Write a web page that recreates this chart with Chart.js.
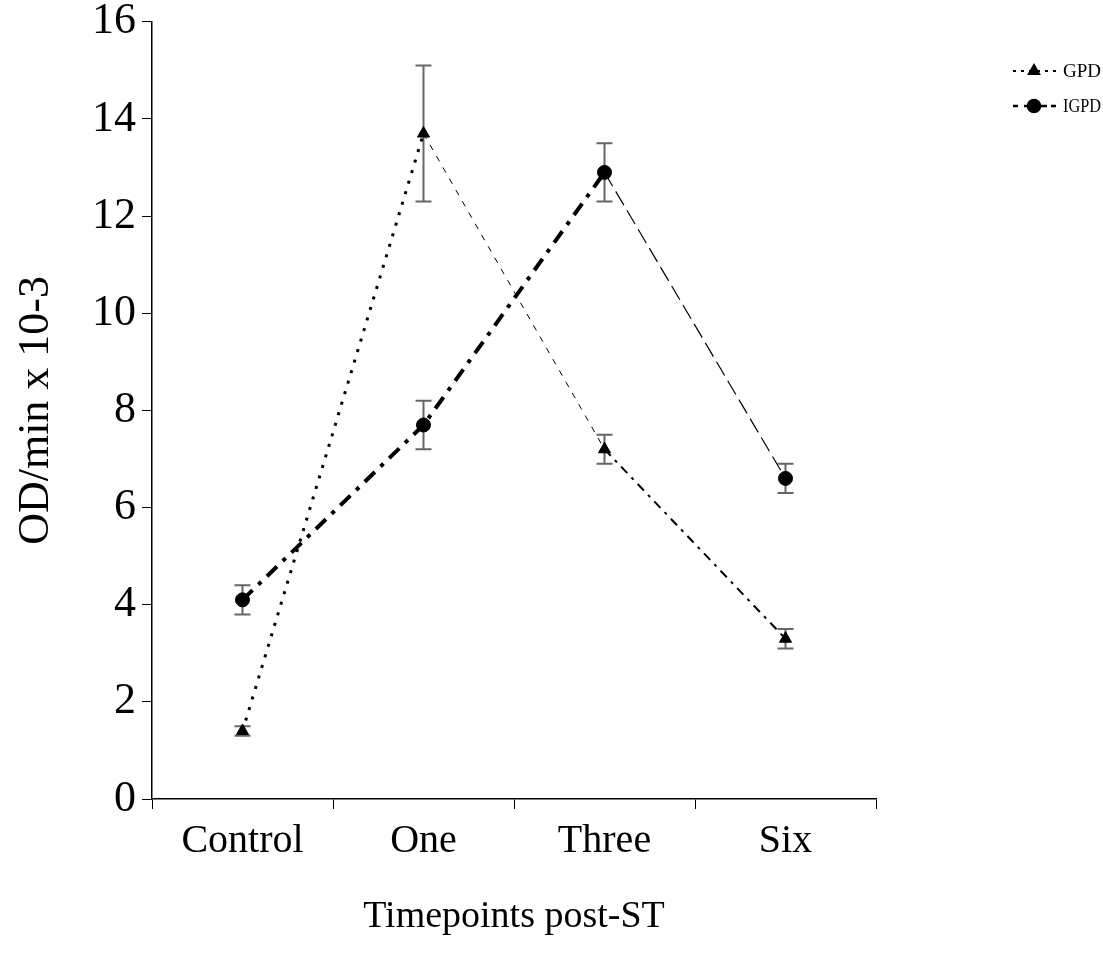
<!DOCTYPE html>
<html>
<head>
<meta charset="utf-8">
<script src="https://cdn.jsdelivr.net/npm/chart.js@4.4.1/dist/chart.umd.min.js"></script>
<style>
  html, body { margin: 0; padding: 0; background: #fff; }
  #wrap { width: 1103px; height: 965px; }
</style>
</head>
<body>
<div id="wrap"><canvas id="chart" width="1103" height="965"></canvas></div>
<script>
const categories = ["Control", "One", "Three", "Six"];
const gpdMeans = [1.4, 13.7, 7.2, 3.3];
const gpdErrors = [0.1, 1.4, 0.3, 0.2];
const igpdMeans = [4.1, 7.7, 12.9, 6.6];
const igpdErrors = [0.3, 0.5, 0.6, 0.3];
const yTickValues = [0, 2, 4, 6, 8, 10, 12, 14, 16];

const serif = "'Liberation Serif', 'Times New Roman', serif";

// line style per segment (Excel export looks different on each stretch)
const gpdDash = [[3, 8], [6, 7], [9, 6, 3, 6]];
const gpdWidth = [3, 1, 2];
const igpdDash = [[14, 8, 4, 8], [14, 8, 4, 8], [16, 6]];
const igpdWidth = [4, 4, 1.2];

// error bars drawn through the y scale
const errorBars = {
    id: "errorBars",
    beforeDatasetsDraw(chart) {
        const ctx = chart.ctx;
        const yScale = chart.scales.y;
        ctx.save();
        ctx.strokeStyle = "#666";
        ctx.lineWidth = 2;
        chart.data.datasets.forEach((ds, i) => {
            const meta = chart.getDatasetMeta(i);
            meta.data.forEach((pt, j) => {
                const top = yScale.getPixelForValue(ds.data[j] + ds.errors[j]);
                const bot = yScale.getPixelForValue(ds.data[j] - ds.errors[j]);
                ctx.beginPath();
                ctx.moveTo(pt.x, top);
                ctx.lineTo(pt.x, bot);
                ctx.moveTo(pt.x - 8, top);
                ctx.lineTo(pt.x + 8, top);
                ctx.moveTo(pt.x - 8, bot);
                ctx.lineTo(pt.x + 8, bot);
                ctx.stroke();
            });
        });
        ctx.restore();
    }
};

// legend at the top right, with line sample and marker
const sideLegend = {
    id: "sideLegend",
    afterDraw(chart) {
        const ctx = chart.ctx;
        const rows = [
            { ds: chart.data.datasets[0], y: 71, dash: [3, 5], width: 2, tx: 1063 },
            { ds: chart.data.datasets[1], y: 106, dash: [5, 6, 3, 6, 14, 4], width: 2.5, tx: 1063 }
        ];
        ctx.save();
        rows.forEach(r => {
            ctx.strokeStyle = "#000";
            ctx.lineWidth = r.width;
            ctx.setLineDash(r.dash);
            ctx.beginPath();
            ctx.moveTo(1013, r.y);
            ctx.lineTo(1058, r.y);
            ctx.stroke();
            ctx.setLineDash([]);
            Chart.helpers.drawPoint(ctx, {
                pointStyle: r.ds.pointStyle,
                radius: 6,
                borderWidth: 1
            }, 1034, r.y);
            ctx.fillStyle = "#000";
            ctx.font = "19px " + serif;
            ctx.textBaseline = "middle";
            ctx.fillText(r.ds.label, r.tx, r.y + 1, 38);
        });
        ctx.restore();
    }
};

new Chart(document.getElementById("chart"), {
    type: "line",
    data: {
        labels: categories,
        datasets: [{
            label: "GPD",
            data: gpdMeans,
            errors: gpdErrors,
            borderColor: "#000",
            backgroundColor: "#000",
            pointStyle: "triangle",
            pointRadius: 7,
            pointBorderWidth: 1,
            segment: {
                borderDash: c => gpdDash[c.p0DataIndex],
                borderWidth: c => gpdWidth[c.p0DataIndex]
            }
        }, {
            label: "IGPD",
            data: igpdMeans,
            errors: igpdErrors,
            borderColor: "#000",
            backgroundColor: "#000",
            pointStyle: "circle",
            pointRadius: 7,
            pointBorderWidth: 1,
            segment: {
                borderDash: c => igpdDash[c.p0DataIndex],
                borderWidth: c => igpdWidth[c.p0DataIndex]
            }
        }]
    },
    options: {
        responsive: false,
        animation: false,
        layout: { padding: { top: 0, right: 227, left: 0, bottom: 0 } },
        plugins: {
            legend: { display: false },
            tooltip: { enabled: false }
        },
        scales: {
            x: {
                type: "category",
                offset: true,
                grid: { offset: true, drawOnChartArea: false, tickLength: 10, color: "#000" },
                border: { color: "#000", width: 1.5 },
                ticks: { color: "#000", padding: 8, font: { family: serif, size: 40 } },
                title: {
                    display: true,
                    text: "Timepoints post-ST",
                    color: "#000",
                    font: { family: serif, size: 38 },
                    padding: { top: 0, bottom: 25 }
                },
                afterFit: s => { s.height = 166; }
            },
            y: {
                min: 0,
                max: 16,
                afterBuildTicks: s => { s.ticks = yTickValues.map(v => ({ value: v })); },
                grid: { drawOnChartArea: false, tickLength: 10, color: "#000" },
                border: { color: "#000", width: 1.5 },
                ticks: { color: "#000", padding: 6, font: { family: serif, size: 44, lineHeight: 0.72 } },
                title: {
                    display: true,
                    text: "OD/min x 10-3",
                    color: "#000",
                    font: { family: serif, size: 44 },
                    padding: { top: 10, bottom: 0 }
                },
                afterFit: s => { s.width = 152; }
            }
        }
    },
    plugins: [errorBars, sideLegend]
});
</script>
</body>
</html>
